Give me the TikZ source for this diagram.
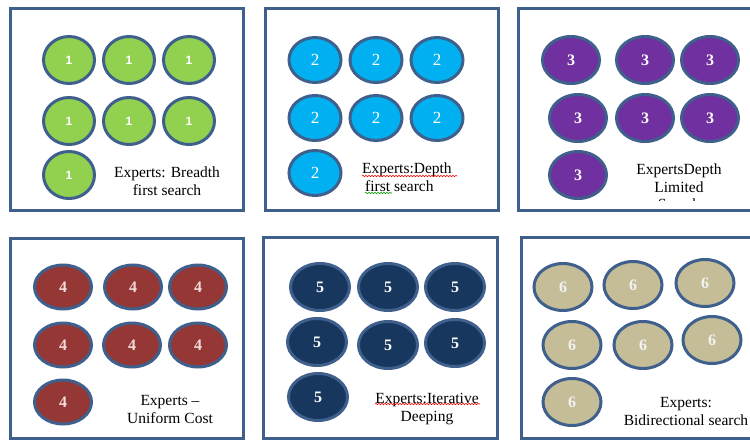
\documentclass[tikz,border=0pt]{standalone}
\usepackage{fontspec}
\setmainfont{Liberation Serif}
\newfontfamily\numsans{Liberation Sans}
\usetikzlibrary{shapes.geometric,decorations.pathmorphing}
\definecolor{edgeblue}{HTML}{3F5F8C}
\definecolor{cgreen}{HTML}{92D050}
\definecolor{cblue}{HTML}{00B0F0}
\definecolor{cpurple}{HTML}{7030A0}
\definecolor{cred}{HTML}{953735}
\definecolor{cnavy}{HTML}{17375E}
\definecolor{ctan}{HTML}{C4BD97}
\definecolor{pinkwhite}{HTML}{F2DCDB}
\tikzset{
  panel/.style={draw=edgeblue,line width=3pt,fill=white},
  bubble/.style={ellipse,draw=edgeblue,line width=3pt,inner sep=0pt,
    minimum width=57pt,minimum height=47pt,text=white,
    font=\fontsize{16}{16}\selectfont\bfseries},
  bone/.style={bubble,fill=cgreen,minimum width=51pt,minimum height=47pt,
    font=\numsans\bfseries\fontsize{12}{12}\selectfont},
  btwo/.style={bubble,fill=cblue,minimum width=52pt,minimum height=45pt,
    font=\fontsize{17}{17}\selectfont},
  bthree/.style={bubble,fill=cpurple,minimum width=57pt,minimum height=47pt},
  bfour/.style={bubble,fill=cred,minimum width=57pt,minimum height=44pt,text=pinkwhite},
  bfive/.style={bubble,fill=cnavy,minimum width=59pt,minimum height=47pt},
  bsix/.style={bubble,fill=ctan,minimum width=58pt,minimum height=47pt,text=white!95!black},
  lbl/.style={align=center,inner sep=0pt,font=\fontsize{15.5}{18}\selectfont,text=black},
  squig/.style={decorate,decoration={snake,amplitude=0.7pt,segment length=3pt},line width=0.6pt}
}
\begin{document}
\begin{tikzpicture}[x=1pt,y=-1pt]
\useasboundingbox (0,0) rectangle (750,440);
\clip (0,0) rectangle (750,440);
\fill[white] (0,0) rectangle (750,440);

% Panel 1
\draw[panel] (10,8) rectangle (243,210);
\node[bone] (a1) at (69,60) {1};
\node[bone] (a2) at (129,60) {1};
\node[bone] (a3) at (189,60) {1};
\node[bone] (a4) at (69,121) {1};
\node[bone] (a5) at (129,121) {1};
\node[bone] (a6) at (189,121) {1};
\node[bone] (a7) at (69,175) {1};
\node[lbl] (ta) at (167,181) {Experts: Breadth\\first search};

% Panel 2
\draw[panel] (265,8) rectangle (498,210);
\node[btwo] (b1) at (315,60) {2};
\node[btwo] (b2) at (376,60) {2};
\node[btwo] (b3) at (437,60) {2};
\node[btwo] (b4) at (315,118) {2};
\node[btwo] (b5) at (376,118) {2};
\node[btwo] (b6) at (437,118) {2};
\node[btwo] (b7) at (315,173) {2};
\node[lbl,align=left,anchor=west] (tb) at (362,177) {Experts:Depth\\\hspace*{3pt}first search};
\draw[squig,red] (362,176) -- (457,176);
\draw[squig,green!60!black] (365,193) -- (392,193);

% Panel 3
\draw[panel] (518,8) rectangle (770,210);
\node[bthree] (c1) at (571,60) {3};
\node[bthree] (c2) at (645,60) {3};
\node[bthree] (c3) at (710,60) {3};
\node[bthree] (c4) at (578,118) {3};
\node[bthree] (c5) at (645,118) {3};
\node[bthree] (c6) at (710,118) {3};
\node[bthree] (c7) at (578,175) {3};
\node[lbl] (tc) at (679,178) {ExpertsDepth\\Limited};
\begin{scope}
\clip (520,190) rectangle (750,200);
\node[lbl] (tc2) at (679,204) {Search};
\end{scope}

% Panel 4
\draw[panel] (10,238) rectangle (243,438);
\node[bfour] (d1) at (63,287) {4};
\node[bfour] (d2) at (133,287) {4};
\node[bfour] (d3) at (198,287) {4};
\node[bfour] (d4) at (63,345) {4};
\node[bfour] (d5) at (132,345) {4};
\node[bfour] (d6) at (198,345) {4};
\node[bfour] (d7) at (63,402) {4};
\node[lbl] (td) at (170,409) {Experts --\\Uniform Cost};

% Panel 5
\draw[panel] (263,237) rectangle (497,438);
\node[bfive] (e1) at (320,287) {5};
\node[bfive] (e2) at (388,287) {5};
\node[bfive] (e3) at (455,287) {5};
\node[bfive] (e4) at (317,342) {5};
\node[bfive] (e5) at (388,345) {5};
\node[bfive] (e6) at (455,343) {5};
\node[bfive] (e7) at (318,397) {5};
\node[lbl] (te) at (427,409) {Experts:Iterative\\Deeping};
\draw[squig,red] (375,404) -- (480,404);

% Panel 6
\draw[panel] (521,237) rectangle (770,438);
\node[bsix] (f1) at (563,287) {6};
\node[bsix] (f2) at (633,285) {6};
\node[bsix] (f3) at (705,283) {6};
\node[bsix] (f4) at (572,345) {6};
\node[bsix] (f5) at (643,345) {6};
\node[bsix] (f6) at (712,340) {6};
\node[bsix] (f7) at (572,402) {6};
\node[lbl] (tf) at (686,411) {Experts:\\Bidirectional search};
\end{tikzpicture}
\end{document}
